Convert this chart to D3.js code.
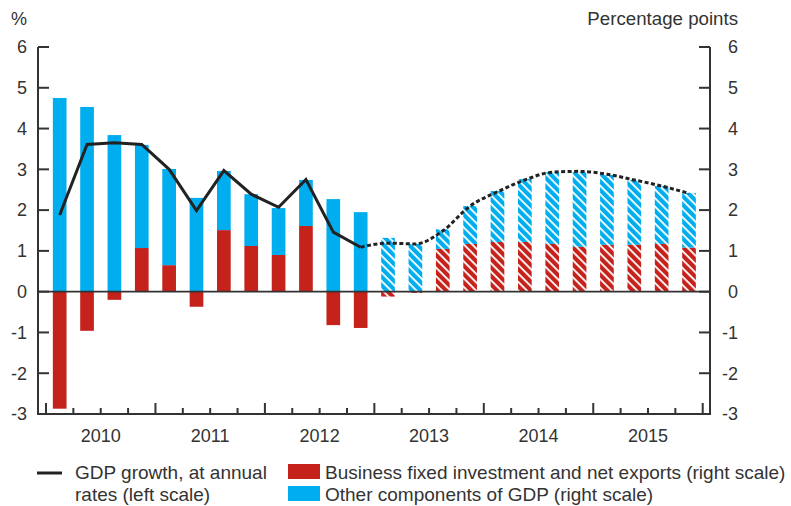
<!DOCTYPE html>
<html>
<head>
<meta charset="utf-8">
<title>GDP growth and contributions</title>
<script src="https://d3js.org/d3.v7.min.js"></script>
<style>
  body { margin: 0; background: #fff; }
  svg text { font-family: "Liberation Sans", Arial, sans-serif; fill: #333; }
</style>
</head>
<body>
<svg id="chart" width="791" height="506"></svg>
<script>
// quarterly data 2010Q1 - 2015Q4, forecast from 2013Q1
var years = ["2010", "2011", "2012", "2013", "2014", "2015"];
var quarters = [];
years.forEach(function (y) { for (var q = 1; q <= 4; q++) quarters.push(y + "Q" + q); });

var gdpGrowth = [1.88, 3.61, 3.65, 3.61, 3.0, 1.99, 2.97, 2.39, 2.07, 2.75, 1.46, 1.09,
                 1.19, 1.17, 1.49, 2.1, 2.45, 2.74, 2.93, 2.95, 2.88, 2.74, 2.59, 2.41];
var businessNetExports = [-2.87, -0.96, -0.2, 1.07, 0.65, -0.37, 1.51, 1.12, 0.9, 1.61, -0.82, -0.89,
                          -0.12, -0.03, 1.05, 1.17, 1.22, 1.22, 1.17, 1.1, 1.15, 1.15, 1.17, 1.08];
var otherComponents = [4.75, 4.53, 3.84, 2.53, 2.36, 2.30, 1.45, 1.27, 1.15, 1.13, 2.27, 1.95,
                       1.32, 1.17, 0.48, 0.93, 1.25, 1.54, 1.76, 1.83, 1.71, 1.59, 1.42, 1.34];
var forecastStart = 12;
var yTicks = [-3, -2, -1, 0, 1, 2, 3, 4, 5, 6];

var RED = "#c4221b", BLUE = "#00adee", INK = "#222";

var svg = d3.select("#chart");
var plotL = 38, plotR = 710, plotT = 47, plotB = 414;

var x = d3.scaleBand().domain(quarters).range([46, 702.7]).paddingInner(0.5).paddingOuter(0.25);
var y = d3.scaleLinear().domain([-3, 6]).range([plotB, plotT]);

// hatch patterns for forecast bars (white "\" stripes)
var defs = svg.append("defs");
[["hatchRed", RED], ["hatchBlue", BLUE]].forEach(function (p) {
    var pat = defs.append("pattern")
        .attr("id", p[0])
        .attr("patternUnits", "userSpaceOnUse")
        .attr("width", 6).attr("height", 6)
        .attr("patternTransform", "rotate(45)");
    pat.append("rect").attr("width", 6).attr("height", 6).attr("fill", p[1]);
    pat.append("rect").attr("x", 0).attr("y", 0).attr("width", 6).attr("height", 1.8).attr("fill", "#fff");
});

// bars
var bars = svg.append("g");
quarters.forEach(function (q, i) {
    var r = businessNetExports[i], b = otherComponents[i];
    var fc = i >= forecastStart;
    var base = Math.max(r, 0);
    bars.append("rect")
        .attr("x", x(q)).attr("width", x.bandwidth())
        .attr("y", y(Math.max(r, 0))).attr("height", Math.abs(y(r) - y(0)))
        .attr("fill", fc ? "url(#hatchRed)" : RED);
    bars.append("rect")
        .attr("x", x(q)).attr("width", x.bandwidth())
        .attr("y", y(base + b)).attr("height", y(base) - y(base + b))
        .attr("fill", fc ? "url(#hatchBlue)" : BLUE);
});

// zero line
svg.append("line")
    .attr("x1", plotL).attr("x2", plotR).attr("y1", y(0)).attr("y2", y(0))
    .attr("stroke", "#333").attr("stroke-width", 1.6);

// GDP line
var pts = gdpGrowth.map(function (v, i) { return { x: x(quarters[i]) + x.bandwidth() / 2, v: v }; });
var line = d3.line().x(function (d) { return d.x; }).y(function (d) { return y(d.v); });
svg.append("path")
    .attr("d", line(pts.slice(0, forecastStart)))
    .attr("fill", "none").attr("stroke", INK).attr("stroke-width", 3);
svg.append("path")
    .attr("d", line.curve(d3.curveMonotoneX)(pts.slice(forecastStart - 1)))
    .attr("fill", "none").attr("stroke", INK).attr("stroke-width", 3).attr("stroke-dasharray", "4,2.5");

// axes frame
var frame = svg.append("g").attr("stroke", "#333").attr("stroke-width", 2);
frame.append("line").attr("x1", plotL).attr("x2", plotL).attr("y1", plotT).attr("y2", plotB + 1);
frame.append("line").attr("x1", plotR).attr("x2", plotR).attr("y1", plotT).attr("y2", plotB + 1);
frame.append("line").attr("x1", plotL - 1).attr("x2", plotR + 1).attr("y1", plotB).attr("y2", plotB);

// y ticks, both sides, pointing inward
yTicks.forEach(function (t) {
    frame.append("line").attr("x1", plotL).attr("x2", plotL + 11).attr("y1", y(t)).attr("y2", y(t));
    frame.append("line").attr("x1", plotR - 11).attr("x2", plotR).attr("y1", y(t)).attr("y2", y(t));
    svg.append("text").attr("x", 27).attr("y", y(t)).attr("dy", "0.35em")
        .attr("text-anchor", "end").attr("font-size", 18).text(t);
    svg.append("text").attr("x", 738).attr("y", y(t)).attr("dy", "0.35em")
        .attr("text-anchor", "end").attr("font-size", 18).text(t);
});

// x ticks at quarter boundaries, taller at year boundaries
var step = x.step();
for (var k = 0; k <= quarters.length; k++) {
    var xx = 46 + k * step;
    if (xx > plotR - 2) continue;
    var big = k % 4 === 0;
    frame.append("line").attr("x1", xx).attr("x2", xx)
        .attr("y1", plotB).attr("y2", plotB - (big ? 11 : 6));
}
years.forEach(function (yr, j) {
    svg.append("text").attr("x", 46 + (j * 4 + 2) * step).attr("y", 442)
        .attr("text-anchor", "middle").attr("font-size", 18).text(yr);
});

// units
svg.append("text").attr("x", 11).attr("y", 25).attr("font-size", 18).text("%");
svg.append("text").attr("x", 738).attr("y", 25).attr("text-anchor", "end").attr("font-size", 18.7).text("Percentage points");

// legend
var lg = svg.append("g").attr("font-size", 19);
lg.append("line").attr("x1", 37).attr("x2", 62).attr("y1", 473).attr("y2", 473)
    .attr("stroke", INK).attr("stroke-width", 3);
lg.append("text").attr("x", 75).attr("y", 479).text("GDP growth, at annual");
lg.append("text").attr("x", 75).attr("y", 501).text("rates (left scale)");
lg.append("rect").attr("x", 288).attr("y", 464).attr("width", 32).attr("height", 15).attr("fill", RED);
lg.append("text").attr("x", 325).attr("y", 479).text("Business fixed investment and net exports (right scale)");
lg.append("rect").attr("x", 288).attr("y", 486).attr("width", 32).attr("height", 15).attr("fill", BLUE);
lg.append("text").attr("x", 325).attr("y", 501).text("Other components of GDP (right scale)");
</script>
</body>
</html>
